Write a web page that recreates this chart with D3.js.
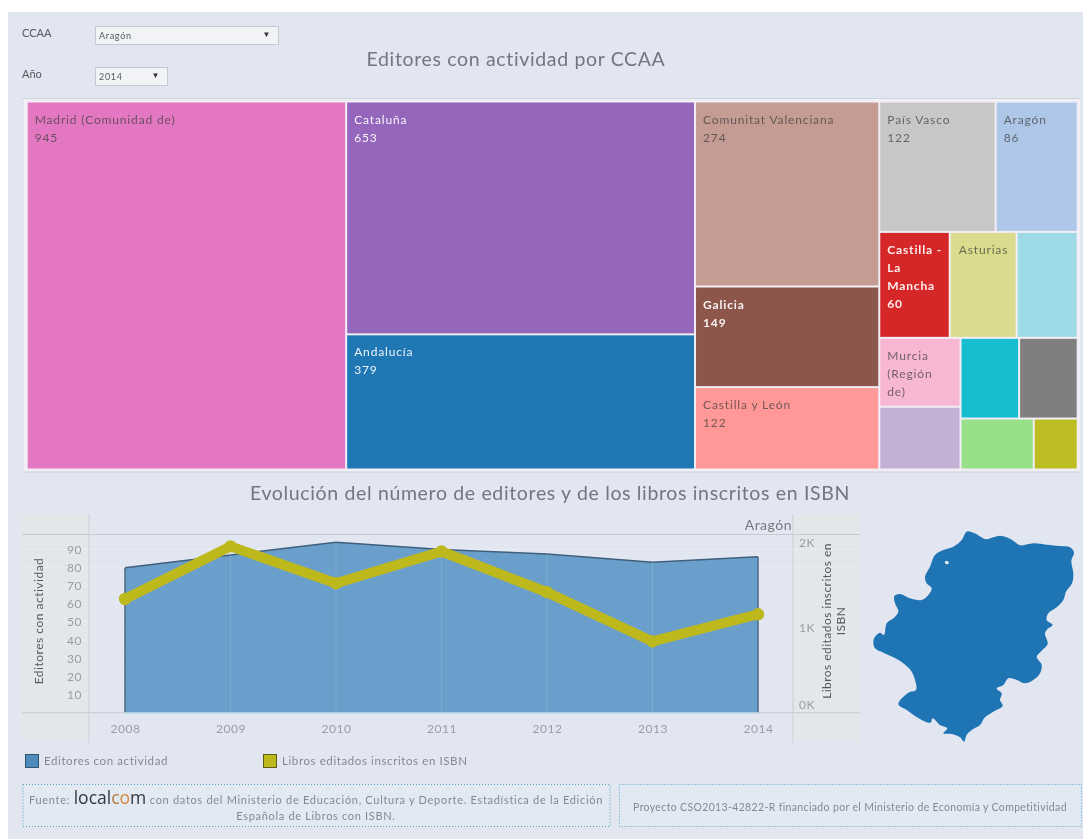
<!DOCTYPE html>
<html><head><meta charset="utf-8">
<script src="https://cdn.jsdelivr.net/npm/d3@7"></script>
<style>
html,body{margin:0;padding:0;background:#fff;overflow:hidden}
svg{display:block;filter:blur(0.45px)}
text{font-family:Lato,"Open Sans",sans-serif}
</style></head><body>
<svg id="chart" width="1083" height="839"></svg>
<script>
// ---- data ----
const treemapNames = ["Madrid (Comunidad de)","Cataluña","Andalucía","Comunitat Valenciana","Galicia","Castilla y León","País Vasco","Aragón","Castilla - La Mancha","Asturias","Canarias","Murcia (Región de)","Navarra","Baleares","Extremadura","Cantabria","La Rioja"];
const treemapValues = [945,653,379,274,149,122,122,86,60,57,52,45,41,38,38,30,18];
const treemapGroups = ["a","b","b","c","c","c","d/a","d/a","d/b","d/b","d/b","d/c/l","d/c/l","d/c/r/t","d/c/r/t","d/c/r/b","d/c/r/b"];
const treemapLabels = [["Madrid (Comunidad de)"],["Cataluña"],["Andalucía"],["Comunitat Valenciana"],["Galicia"],["Castilla y León"],["País Vasco"],["Aragón"],["Castilla -","La","Mancha"],["Asturias"],[],["Murcia","(Región","de)"],[],[],[],[],[]];
const treemapValueShown = [1,1,1,1,1,1,1,1,1,0,0,0,0,0,0,0,0];
const treemapColors = ["#e377c2","#9467bd","#1f77b4","#c49c94","#8c564b","#ff9896","#c7c7c7","#aec7e8","#d62728","#dbdb8d","#9edae5","#f7b6d2","#c5b0d5","#17becf","#7f7f7f","#98df8a","#bcbd22"];
const whiteLabelNames = ["Cataluña","Andalucía","Galicia","Castilla - La Mancha"];
const years = [2008,2009,2010,2011,2012,2013,2014];
const editores = [80,87,94,90,87.5,83,86];
const libros = [1340,1960,1525,1900,1420,840,1160];
const editoresTicks = [10,20,30,40,50,60,70,80,90];
const librosTicks = [0,1000,2000];
const legendItems = ["Editores con actividad","Libros editados inscritos en ISBN"];
// Aragón outline, in map units
const aragonOutline = [[320,35],[340,38],[362,50],[378,58],[400,52],[420,47],[440,52],[460,62],[480,76],[520,70],[560,74],[600,78],[630,82],[642,98],[634,122],[640,160],[636,190],[618,215],[610,240],[590,262],[565,280],[560,300],[578,315],[565,325],[555,340],[563,372],[545,392],[530,410],[545,435],[540,460],[520,480],[495,490],[470,480],[445,475],[430,495],[410,505],[425,520],[420,540],[428,558],[400,575],[375,592],[360,615],[335,630],[320,645],[312,665],[300,652],[275,642],[250,640],[262,625],[240,615],[218,595],[212,608],[190,602],[165,588],[140,570],[115,552],[145,518],[168,510],[165,480],[155,455],[130,430],[100,412],[70,398],[45,385],[40,365],[45,350],[60,338],[72,345],[80,310],[100,295],[115,275],[105,250],[103,228],[120,222],[150,235],[185,240],[205,225],[215,205],[200,190],[195,170],[210,140],[225,105],[250,90],[280,80],[305,60]];
const aragonHole = [[255,124],[264,124],[266,131],[257,132]];

// ---- setup ----
const svg = d3.select("#chart");
const panel = "#e1e6f0", ink = "#72777f", tickInk = "#9a9da2";
svg.append("rect").attr("x",8).attr("y",12).attr("width",1075).attr("height",827).attr("fill",panel);

// ---- filters and titles ----
function filter(label, y, value, w){
  svg.append("text").attr("x",22).attr("y",y+11).attr("font-size",11).attr("fill","#55595f").text(label);
  svg.append("rect").attr("x",95.5).attr("y",y+0.5).attr("width",w).attr("height",18).attr("fill","#f1f3f7").attr("stroke","#c6cacf");
  svg.append("text").attr("x",99).attr("y",y+13).attr("font-size",9).attr("letter-spacing",0.7).attr("fill","#55595f").text(value);
  svg.append("text").attr("x",95.5+w-12).attr("y",y+11).attr("font-size",8).attr("text-anchor","middle").attr("fill","#333").text("▼");
}
filter("CCAA",26,"Aragón",183);
filter("Año",67,"2014",72);
svg.append("text").attr("x",516).attr("y",66).attr("text-anchor","middle").attr("font-size",19.5).attr("letter-spacing",0.65).attr("fill",ink).text("Editores con actividad por CCAA");
svg.append("text").attr("x",550).attr("y",500).attr("text-anchor","middle").attr("font-size",19.5).attr("letter-spacing",0.65).attr("fill",ink).text("Evolución del número de editores y de los libros inscritos en ISBN");

// ---- treemap ----
svg.append("rect").attr("x",24).attr("y",98.5).attr("width",1056).attr("height",373).attr("fill","#f2eef6").attr("stroke","none");
[98.5,472].forEach(y=>svg.append("line").attr("x1",22).attr("x2",1080).attr("y1",y).attr("y2",y).attr("stroke","#cdd5d9"));
const color = d3.scaleOrdinal(treemapNames, treemapColors);
const treeData = {children:[]};
treemapNames.forEach((name,i)=>{
  let node = treeData;
  treemapGroups[i].split("/").forEach(key=>{
    let c = node.children.find(k=>k.key===key);
    if(!c){c={key,children:[]};node.children.push(c);}
    node = c;
  });
  node.children.push({name,value:treemapValues[i],index:i});
});
function collapse(n){ if(n.children){ n.children.forEach(collapse); n.children = n.children.map(c=>(c.children&&c.children.length===1)?c.children[0]:c);} }
collapse(treeData);
const root = d3.hierarchy(treeData).sum(d=>d.value||0);
d3.treemap().tile(d3.treemapSliceDice).size([1051,368]).paddingInner(0)(root);
const tmX = 26.7, tmY = 101.5;
const cell = svg.append("g").attr("transform",`translate(${tmX},${tmY})`).selectAll("g").data(root.leaves()).join("g")
  .attr("transform",d=>`translate(${d.x0},${d.y0})`);
cell.append("rect").attr("x",1).attr("y",1).attr("width",d=>d.x1-d.x0-2).attr("height",d=>d.y1-d.y0-2).attr("fill",d=>color(d.data.name));
cell.each(function(d){
  const i = d.data.index, white = whiteLabelNames.includes(d.data.name);
  const lines = treemapLabels[i].concat(treemapValueShown[i]?[String(d.data.value)]:[]);
  d3.select(this).selectAll("text").data(lines).join("text")
    .attr("x",d.data.name==="Asturias"?9:8).attr("y",(l,k)=>22+k*18)
    .attr("font-size",12).attr("letter-spacing",0.85)
    .attr("font-weight",white&&d.data.name!=="Cataluña"&&d.data.name!=="Andalucía"?700:400)
    .attr("fill",white?"#fff":"#3f3f3f").attr("fill-opacity",white?0.92:0.72).text(l=>l);
});

// ---- dual-axis chart ----
const x = d3.scaleLinear().domain([2008,2014]).range([125,758]);
const yL = d3.scaleLinear().domain([0,98]).range([712.7,535]);
const yR = d3.scaleLinear().domain([0,2000]).range([712.7,543]);
const paneL=89, paneR=793, bandTop=514, bandBot=741;
[[22,paneL],[paneR,860]].forEach(([a,b])=>svg.append("rect").attr("x",a).attr("y",bandTop).attr("width",b-a).attr("height",bandBot-bandTop).attr("fill","#e3e7ea"));
// gridlines on background
svg.append("g").selectAll("line").data(editoresTicks).join("line")
  .attr("x1",22).attr("x2",860).attr("y1",d=>yL(d)).attr("y2",d=>yL(d)).attr("stroke","#e8ecf3");
const area = d3.area().x((d,i)=>x(years[i])).y0(yL(0)).y1(d=>yL(d));
svg.append("path").datum(editores).attr("d",area).attr("fill","#6a9fcb");
svg.append("path").datum(editores).attr("d",d3.line().x((d,i)=>x(years[i])).y(d=>yL(d))).attr("fill","none").attr("stroke","#3f5f7d").attr("stroke-width",1.5);
[0,6].forEach(i=>svg.append("line").attr("x1",x(years[i])).attr("x2",x(years[i])).attr("y1",yL(editores[i])).attr("y2",yL(0)).attr("stroke","#3f5f7d").attr("stroke-width",1.5));
// year gridlines and rules
svg.append("g").selectAll("line").data(years).join("line")
  .attr("x1",d=>x(d)).attr("x2",d=>x(d)).attr("y1",534).attr("y2",712.7).attr("stroke","#fff").attr("stroke-opacity",0.12);
[534.5,712.7].forEach(y=>svg.append("line").attr("x1",22).attr("x2",860).attr("y1",y).attr("y2",y).attr("stroke","#c6cbd0"));
[paneL,paneR].forEach(px=>svg.append("line").attr("x1",px).attr("x2",px).attr("y1",bandTop).attr("y2",bandBot+2).attr("stroke","#cbd0d4"));
svg.append("line").attr("x1",x(2008)).attr("x2",x(2014)).attr("y1",713).attr("y2",713).attr("stroke","#a9d3ec");
const lineColor = "#bdb91c";
svg.append("path").datum(libros).attr("d",d3.line().x((d,i)=>x(years[i])).y(d=>yR(d))).attr("fill","none").attr("stroke",lineColor).attr("stroke-width",10).attr("stroke-linejoin","round");
svg.append("g").selectAll("circle").data(libros).join("circle").attr("cx",(d,i)=>x(years[i])).attr("cy",d=>yR(d)).attr("r",6.2).attr("fill",lineColor);
// axes
function styleAxis(g){ g.select(".domain").remove(); g.selectAll(".tick line").remove();
  g.selectAll("text").attr("font-size",12).attr("letter-spacing",0.5).attr("fill",tickInk).style("font-family","Lato,sans-serif"); }
svg.append("g").attr("transform",`translate(${paneL},0)`).call(d3.axisLeft(yL).tickValues(editoresTicks).tickSize(0).tickPadding(7)).call(styleAxis);
svg.append("g").attr("transform",`translate(0,714)`).call(d3.axisBottom(x).tickValues(years).tickFormat(d3.format("d")).tickSize(0).tickPadding(10)).call(styleAxis);
const rAxis = svg.append("g").attr("transform",`translate(${paneR},0)`).call(d3.axisRight(yR).tickValues(librosTicks).tickFormat(d=>(d/1000)+"K").tickSize(0).tickPadding(6)).call(styleAxis);
rAxis.selectAll(".tick text").filter(d=>d===0).attr("dy","-0.35em");
svg.append("text").attr("transform","translate(43,621) rotate(-90)").attr("text-anchor","middle").attr("font-size",12).attr("letter-spacing",0.5).attr("fill","#55595f").text("Editores con actividad");
const rTitle = svg.append("text").attr("transform","translate(831,621) rotate(-90)").attr("text-anchor","middle").attr("font-size",12).attr("letter-spacing",0.45).attr("fill","#55595f");
rTitle.append("tspan").attr("x",0).text("Libros editados inscritos en");
rTitle.append("tspan").attr("x",0).attr("dy",14).text("ISBN");
svg.append("text").attr("x",792).attr("y",530).attr("text-anchor","end").attr("font-size",14).attr("letter-spacing",0.5).attr("fill","#777b82").text("Aragón");

// ---- map ----
const mx = d3.scaleLinear().domain([0,669]).range([860,1083]);
const my = d3.scaleLinear().domain([0,690]).range([520,750]);
const mapLine = d3.line().x(d=>mx(d[0])).y(d=>my(d[1])).curve(d3.curveCatmullRomClosed.alpha(0.5));
svg.append("path").attr("d",mapLine(aragonOutline)+mapLine(aragonHole)).attr("fill","#1f74b3").attr("fill-rule","evenodd");

// ---- legend ----
[[25,"#4e8bbd","#35556f"],[263,lineColor,"#5f5d1a"]].forEach(([lx,f,s],i)=>{
  svg.append("rect").attr("x",lx+0.5).attr("y",754.5).attr("width",13).attr("height",13).attr("fill",f).attr("stroke",s);
  svg.append("text").attr("x",lx+19).attr("y",765).attr("font-size",11.5).attr("letter-spacing",0.6).attr("fill","#85898f").text(legendItems[i]);
});

// ---- footer ----
[[23,587],[619.5,462]].forEach(([bx,bw])=>svg.append("rect").attr("x",bx).attr("y",784.5).attr("width",bw).attr("height",42).attr("fill","#e3e9f3").attr("stroke","#4fa3c4").attr("stroke-width",1).attr("stroke-dasharray","1 2"));
const f1 = svg.append("text").attr("x",316).attr("y",804).attr("text-anchor","middle").attr("font-size",11).attr("letter-spacing",0.7).attr("fill","#85898f");
f1.append("tspan").text("Fuente: ");
const logo = f1.append("tspan").attr("font-size",17.5).attr("letter-spacing",0).style("font-family","'Open Sans',sans-serif");
logo.append("tspan").attr("fill","#33383f").text("local");
logo.append("tspan").attr("fill","#b5763a").text("c");
logo.append("tspan").attr("fill","#d88a3a").text("o");
logo.append("tspan").attr("fill","#33383f").text("m");
f1.append("tspan").text(" con datos del Ministerio de Educación, Cultura y Deporte. Estadística de la Edición");
svg.append("text").attr("x",316).attr("y",820).attr("text-anchor","middle").attr("font-size",11).attr("letter-spacing",0.68).attr("fill","#85898f").text("Española de Libros con ISBN.");
svg.append("text").attr("x",850).attr("y",811).attr("text-anchor","middle").attr("font-size",10.5).attr("letter-spacing",0.35).attr("fill","#85898f").text("Proyecto CSO2013-42822-R financiado por el Ministerio de Economía y Competitividad");
</script>
</body></html>
